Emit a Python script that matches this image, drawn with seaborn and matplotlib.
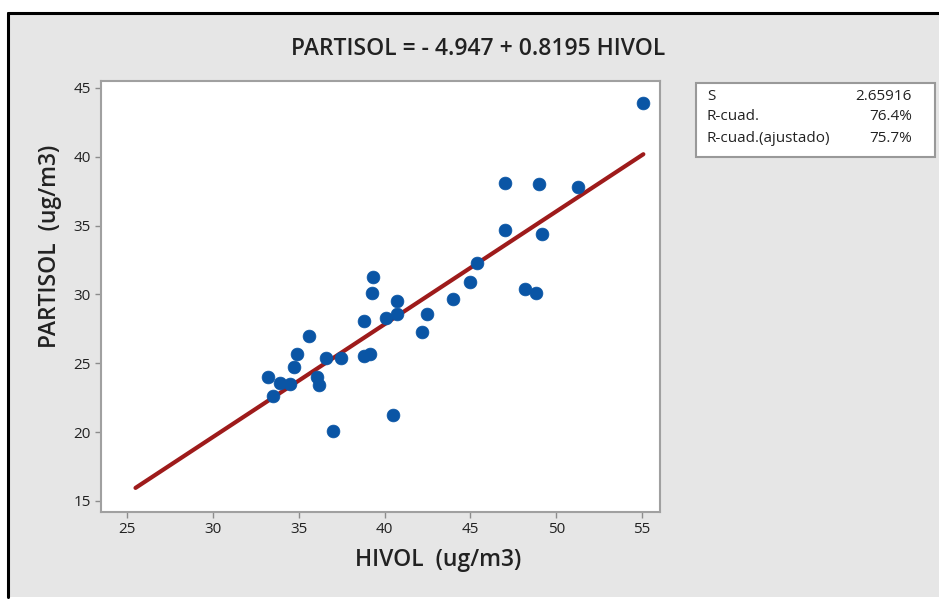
import matplotlib
matplotlib.use("Agg")
import matplotlib.pyplot as plt
import seaborn as sns
import pandas as pd
import numpy as np
from matplotlib.patches import Rectangle
from matplotlib.lines import Line2D

# ---- data ----
hivol = [33.2, 33.5, 33.9, 34.5, 34.7, 34.9, 35.6, 36.05, 36.2, 36.6, 37.0, 37.45,
         38.8, 38.8, 39.15, 39.25, 39.35, 40.1, 40.5, 40.7, 40.75, 42.2, 42.45,
         43.97, 44.98, 45.4, 47.0, 47.0, 48.18, 48.8, 48.99, 49.15, 51.25, 55.07]
partisol = [24.0, 22.65, 23.6, 23.5, 24.7, 25.7, 27.0, 24.0, 23.4, 25.4, 20.1, 25.4,
            28.1, 25.5, 25.7, 30.1, 31.3, 28.3, 21.25, 28.6, 29.55, 27.3, 28.6,
            29.7, 30.9, 32.26, 38.1, 34.7, 30.4, 30.1, 38.0, 34.4, 37.8, 43.9]
intercept = -4.947
slope = 0.8195
line_x = [25.5, 55.07]
x_ticks = [25, 30, 35, 40, 45, 50, 55]
y_ticks = [15, 20, 25, 30, 35, 40, 45]
stat_labels = ["S", "R-cuad.", "R-cuad.(ajustado)"]
stat_values = ["2.65916", "76.4%", "75.7%"]
title_text = "PARTISOL = - 4.947 + 0.8195 HIVOL"

pts = pd.DataFrame({"HIVOL": hivol, "PARTISOL": partisol})
fit = pd.DataFrame({"HIVOL": line_x,
                    "PARTISOL": [intercept + slope * v for v in line_x]})

sns.set_theme(style="white")
plt.rcParams["font.family"] = ["Open Sans", "DejaVu Sans"]

fig = plt.figure(figsize=(9.39, 5.99), dpi=100)
fig.patch.set_facecolor("white")
W, H = 939.0, 599.0
# gray panel (screenshot window)
fig.patches.append(Rectangle((8 / W, 2 / H), 1.0, 1 - 14 / H,
                             transform=fig.transFigure, facecolor="#e6e6e6",
                             edgecolor="none", zorder=-5))
# black frame on left and top
fig.lines.append(Line2D([8 / W, 8 / W], [2 / H, 1 - 13 / H], transform=fig.transFigure,
                        color="black", linewidth=2.2, zorder=-4))
fig.lines.append(Line2D([8 / W, 1.0], [1 - 13 / H, 1 - 13 / H], transform=fig.transFigure,
                        color="black", linewidth=2.2, zorder=-4))

ax = fig.add_axes([101 / W, 1 - 512 / H, (660 - 101) / W, (512 - 81) / H])
ax.set_zorder(2)
ax.set_facecolor("white")

sns.lineplot(data=fit, x="HIVOL", y="PARTISOL", ax=ax, color="#9e1b1b",
             linewidth=3, zorder=2)
sns.scatterplot(data=pts, x="HIVOL", y="PARTISOL", ax=ax, color="#0a55a5",
                s=85, marker="o", edgecolor="#0a55a5", linewidth=0.5, zorder=3)

ax.set_xlim(23.49, 56.04)
ax.set_ylim(14.2, 45.5)
ax.set_xticks(x_ticks)
ax.set_yticks(y_ticks)
ax.tick_params(axis="both", which="major", direction="out", length=4, width=1,
               color="#8c8c8c", labelsize=11, labelcolor="#222222", bottom=True, left=True)
for sp in ax.spines.values():
    sp.set_color("#a0a0a0")
    sp.set_linewidth(1.5)

ax.set_xlabel("HIVOL  (ug/m3)", fontsize=16.5, color="#222222", fontweight="semibold")
ax.set_ylabel("PARTISOL  (ug/m3)", fontsize=16.5, color="#222222", fontweight="semibold")
# label positions (axes fraction)
ax.xaxis.set_label_coords((438 - 101) / 559, -(548 - 512) / 431)
ax.yaxis.set_label_coords(-(101 - 62) / 559, (512 - 246) / 431)

fig.text(478 / W, 1 - 49 / H, title_text, ha="center", va="center",
         fontsize=16.5, color="#222222", fontweight="semibold")

# statistics box
fig.patches.append(Rectangle((696 / W, 1 - 157 / H), (935 - 696) / W, (157 - 83) / H,
                             transform=fig.transFigure, facecolor="white",
                             edgecolor="#999999", linewidth=1.5, zorder=1))
rows_y = [97, 117, 138]
for lab, val, yy in zip(stat_labels, stat_values, rows_y):
    fig.text(707 / W, 1 - yy / H, lab, ha="left", va="center", fontsize=11,
             color="#222222", zorder=3)
    fig.text(912 / W, 1 - yy / H, val, ha="right", va="center", fontsize=11,
             color="#222222", zorder=3)

fig.savefig("out.png", dpi=100, facecolor=fig.get_facecolor())
